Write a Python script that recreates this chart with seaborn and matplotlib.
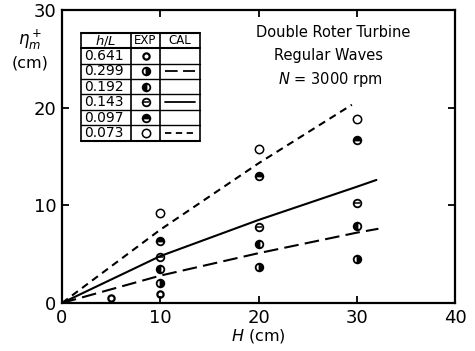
import numpy as np
import pandas as pd
import matplotlib
matplotlib.use("Agg")
import matplotlib.pyplot as plt
import seaborn as sns

# Measured peak displacement (EXP) for each wave steepness h/L
h_over_L = ["0.641", "0.299", "0.192", "0.143", "0.097", "0.073"]
exp_H = {
    "0.641": [5, 10],
    "0.299": [10, 20, 30],
    "0.192": [10, 20, 30],
    "0.143": [10, 20, 30],
    "0.097": [10, 20, 30],
    "0.073": [10, 20, 30],
}
exp_eta = {
    "0.641": [0.5, 0.9],
    "0.299": [2.05, 3.7, 4.5],
    "0.192": [3.5, 6.0, 7.9],
    "0.143": [4.7, 7.8, 10.2],
    "0.097": [6.35, 13.0, 16.7],
    "0.073": [9.2, 15.8, 18.8],
}

# Calculated curves (CAL)
cal_keys = ["0.299", "0.143", "0.073"]
cal_H = {
    "0.299": [0, 10, 20, 30, 32.2],
    "0.143": [0, 10, 20, 30, 32.0],
    "0.073": [0, 10, 20, 29.5],
}
cal_eta = {
    "0.299": [0, 2.8, 5.1, 7.2, 7.6],
    "0.143": [0, 4.8, 8.5, 11.9, 12.6],
    "0.073": [0, 7.5, 14.3, 20.3],
}

x_ticks = [0, 10, 20, 30, 40]
y_ticks = [0, 10, 20, 30]

sns.set_style("ticks")
plt.rcParams["font.family"] = ["DejaVu Sans"]
plt.rcParams["text.color"] = "black"
plt.rcParams["xtick.color"] = "black"
plt.rcParams["ytick.color"] = "black"
plt.rcParams["axes.edgecolor"] = "black"

# marker styles per h/L
mstyle = {
    "0.641": dict(marker="o", fillstyle="none", markersize=4.5, mew=1.6),
    "0.299": dict(marker="o", fillstyle="right", markersize=5.5, mew=1.3),
    "0.192": dict(marker="o", fillstyle="left", markersize=5.5, mew=1.3),
    "0.143": dict(marker="o", fillstyle="none", markersize=5.5, mew=1.3),
    "0.097": dict(marker="o", fillstyle="top", markersize=5.5, mew=1.3),
    "0.073": dict(marker="o", fillstyle="none", markersize=6, mew=1.1),
}
lstyle = {
    "0.299": (0, (7, 3)),
    "0.143": "-",
    "0.073": (0, (3.5, 2.5)),
}

fig = plt.figure(figsize=(4.75, 3.51), dpi=100)
ax = fig.add_axes([0.1305, 0.1368, 0.8275, 0.8347])

# calculated curves
cal_df = pd.concat(
    [pd.DataFrame({"H": cal_H[k], "eta": cal_eta[k], "hL": k}) for k in cal_keys],
    ignore_index=True,
)
for k in cal_keys:
    sns.lineplot(data=cal_df[cal_df["hL"] == k], x="H", y="eta", ax=ax,
                 color="black", lw=1.5, linestyle=lstyle[k], legend=False)

# measured points
def draw_marker(k, xs, ys, **kw):
    st = dict(mstyle[k])
    ax.plot(xs, ys, linestyle="none", color="black", markerfacecolor="black",
            markerfacecoloralt="white", markeredgecolor="black", **st, **kw)
    if k == "0.143":
        ax.plot(xs, ys, linestyle="none", marker="_", color="black",
                markersize=st["markersize"] * 0.8, mew=1.1, **kw)

for k in h_over_L:
    draw_marker(k, exp_H[k], exp_eta[k], clip_on=False)

ax.set_xlim(0, 40)
ax.set_ylim(0, 30)
ax.set_xticks(x_ticks)
ax.set_yticks(y_ticks)
ax.tick_params(direction="in", length=5, width=1.3, labelsize=13, pad=4,
               top=True, right=True, colors="black")
for s in ax.spines.values():
    s.set_visible(True)
    s.set_linewidth(1.6)
    s.set_color("black")
ax.set_xlabel("")
ax.set_ylabel("")

# axis labels
fig.text(0.543, 0.03, r"$H$ (cm)", ha="center", va="baseline", fontsize=11.5)
fig.text(0.063, 0.886, r"$\eta_m^+$", ha="center", va="center", fontsize=12)
fig.text(0.063, 0.82, "(cm)", ha="center", va="center", fontsize=11.5)

# annotation block
ax.text(0.69, 0.924, "Double Roter Turbine", transform=ax.transAxes,
        ha="center", va="center", fontsize=10.5)
ax.text(0.678, 0.845, "Regular Waves", transform=ax.transAxes,
        ha="center", va="center", fontsize=10.5)
ax.text(0.683, 0.762, r"$N$ = 3000 rpm", transform=ax.transAxes,
        ha="center", va="center", fontsize=10.5)

# key table: h/L | EXP | CAL
tx = [0.048, 0.176, 0.249, 0.351]
ty_top = 0.921
hdr_h = 0.051
row_h = 0.0527
ty = [ty_top, ty_top - hdr_h] + [ty_top - hdr_h - row_h * (i + 1) for i in range(len(h_over_L))]
tr = ax.transAxes
for y in ty:
    lw = 1.5 if y in (ty[0], ty[1], ty[-1]) else 1.0
    ax.plot([tx[0], tx[-1]], [y, y], transform=tr, color="black", lw=lw, clip_on=False)
for x in tx:
    ax.plot([x, x], [ty[0], ty[-1]], transform=tr, color="black", lw=1.2, clip_on=False)

def cx(i):
    return (tx[i] + tx[i + 1]) / 2

hy = (ty[0] + ty[1]) / 2
ax.text(cx(0), hy, r"$h$/$L$", transform=tr, ha="center", va="center", fontsize=9.5)
ax.text(cx(1), hy, "EXP", transform=tr, ha="center", va="center", fontsize=8.5)
ax.text(cx(2), hy, "CAL", transform=tr, ha="center", va="center", fontsize=8.5)
for i, k in enumerate(h_over_L):
    yc = (ty[i + 1] + ty[i + 2]) / 2
    ax.text(tx[0] + 0.008, yc, k, transform=tr, ha="left", va="center", fontsize=10)
    draw_marker(k, [cx(1)], [yc], transform=tr, clip_on=False)
    if k in lstyle:
        ax.plot([tx[2] + 0.012, tx[3] - 0.012], [yc, yc], transform=tr, color="black",
                lw=1.3, linestyle=lstyle[k], clip_on=False)

fig.savefig("out.png", dpi=100)
